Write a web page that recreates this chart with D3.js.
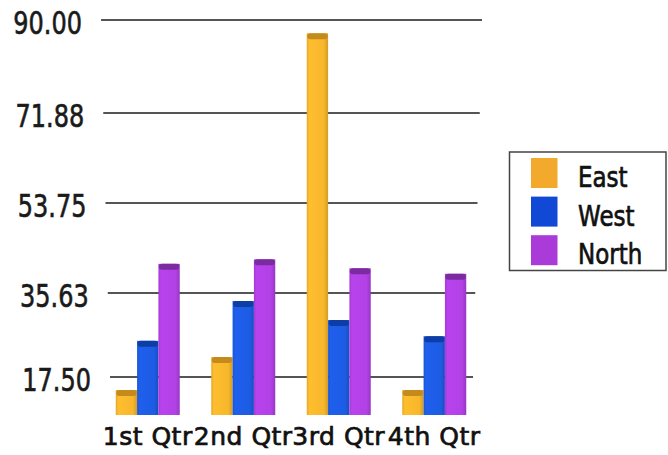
<!DOCTYPE html>
<html>
<head>
<meta charset="utf-8">
<script src="https://cdn.jsdelivr.net/npm/d3@7"></script>
<style>
  html, body { margin: 0; padding: 0; background: #fff; }
  svg { display: block; }
</style>
</head>
<body>
<svg id="chart" width="668" height="455"></svg>
<script>
// Quarterly figures per region
const categories = ["1st Qtr", "2nd Qtr", "3rd Qtr", "4th Qtr"];
const seriesNames = ["East", "West", "North"];
const east  = [14.7, 21.8, 87.4, 14.7];
const west  = [25.3, 33.9, 29.8, 26.3];
const north = [41.5, 42.4, 40.6, 39.5];

// Value axis
const yBase = 9.3;
const yTickValues = [17.5, 35.63, 53.75, 71.88, 90];
const yTickLabels = ["17.50", "35.63", "53.75", "71.88", "90.00"];

const seriesValues = { East: east, West: west, North: north };
const faceColor = { East: "#F7B72C", West: "#1D5CE4", North: "#B241E6" };
const capColor  = { East: "#C48A1C", West: "#0C3EA6", North: "#7C2AA0" };
const keyColor  = { East: "#F3A92B", West: "#1148D6", North: "#AB3BD8" };

const svg = d3.select("#chart");

const y = d3.scaleLinear()
  .domain([yBase, ...yTickValues])
  .range([415, 377, 293, 203, 113, 20]);

const x0 = d3.scaleBand()
  .domain(categories)
  .range([100, 482])
  .paddingInner(0.33)
  .paddingOuter(0.165);

const x1 = d3.scaleBand()
  .domain(seriesNames)
  .range([0, x0.bandwidth()]);

// slight perspective taper of the grid toward the floor
const taper = d3.scaleLinear().domain([90, 17.5]).range([0, 9]);

// gradients for the bar faces
const defs = svg.append("defs");
seriesNames.forEach(s => {
  const base = d3.color(faceColor[s]);
  const g = defs.append("linearGradient")
    .attr("id", "face-" + s)
    .attr("x1", "0%").attr("x2", "100%").attr("y1", "0%").attr("y2", "0%");
  g.append("stop").attr("offset", "0%").attr("stop-color", base.darker(0.25));
  g.append("stop").attr("offset", "12%").attr("stop-color", base.brighter(0.1));
  g.append("stop").attr("offset", "80%").attr("stop-color", base);
  g.append("stop").attr("offset", "100%").attr("stop-color", base.darker(0.45));
});

// grid lines
const grid = svg.append("g");
grid.selectAll("line")
  .data(yTickValues)
  .join("line")
  .attr("x1", d => 101 + taper(d))
  .attr("x2", d => 482 - taper(d))
  .attr("y1", d => y(d))
  .attr("y2", d => y(d))
  .attr("stroke", "#555")
  .attr("stroke-width", 2.2);

// y labels
svg.append("g")
  .selectAll("text")
  .data(yTickValues)
  .join("text")
  .attr("transform", d => `translate(${82 + taper(d)},${y(d) + 14}) scale(1,1.3)`)
  .attr("text-anchor", "end")
  .attr("font-family", "DejaVu Sans")
  .attr("font-size", 24)
  .attr("fill", "#1a1a1a")
  .attr("stroke", "#1a1a1a")
  .attr("stroke-width", 0.5)
  .text((d, i) => yTickLabels[i]);

// bars
const groups = svg.append("g")
  .selectAll("g")
  .data(categories)
  .join("g")
  .attr("transform", d => `translate(${x0(d)},0)`);

const bars = groups.selectAll("g")
  .data((c, ci) => seriesNames.map(s => ({ s, v: seriesValues[s][ci] })))
  .join("g");

bars.append("rect")
  .attr("x", d => x1(d.s))
  .attr("y", d => y(d.v))
  .attr("width", x1.bandwidth())
  .attr("height", d => y(yBase) - y(d.v))
  .attr("fill", d => `url(#face-${d.s})`);

bars.append("rect")
  .attr("x", d => x1(d.s) + 0.5)
  .attr("y", d => y(d.v))
  .attr("width", x1.bandwidth() - 1)
  .attr("height", 6)
  .attr("rx", 3)
  .attr("fill", d => capColor[d.s]);

// category labels
svg.append("g")
  .selectAll("text")
  .data(categories)
  .join("text")
  .attr("x", d => x0(d) + x0.bandwidth() / 2)
  .attr("y", 445)
  .attr("text-anchor", "middle")
  .attr("font-family", "DejaVu Sans")
  .attr("font-size", 25)
  .attr("letter-spacing", 0.5)
  .attr("fill", "#111")
  .attr("stroke", "#111")
  .attr("stroke-width", 0.7)
  .text(d => d);

// legend
const legend = svg.append("g");
legend.append("rect")
  .attr("x", 509.5).attr("y", 152)
  .attr("width", 156.5).attr("height", 118.5)
  .attr("fill", "#fff")
  .attr("stroke", "#444")
  .attr("stroke-width", 1.5);

const items = legend.selectAll("g.item")
  .data(seriesNames)
  .join("g")
  .attr("class", "item")
  .attr("transform", (d, i) => `translate(0,${i * 38.6})`);

items.append("rect")
  .attr("x", 531).attr("y", 158)
  .attr("width", 26.5).attr("height", 30)
  .attr("fill", d => keyColor[d]);

items.append("text")
  .attr("transform", "translate(578,187) scale(1,1.2)")
  .attr("font-family", "DejaVu Sans")
  .attr("font-size", 23)
  .attr("fill", "#111")
  .attr("stroke", "#111")
  .attr("stroke-width", 0.6)
  .text(d => d);
</script>
</body>
</html>
